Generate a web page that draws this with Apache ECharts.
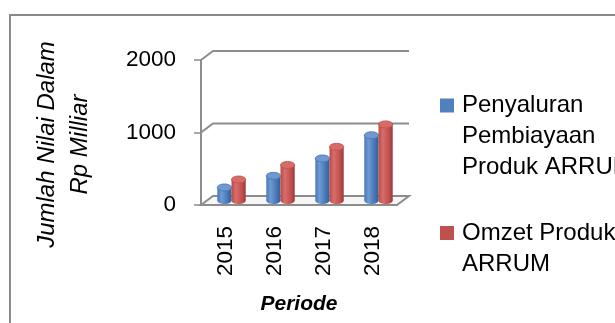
<!DOCTYPE html>
<html>
<head>
<meta charset="utf-8">
<script src="https://cdn.jsdelivr.net/npm/echarts@6/dist/echarts.min.js"></script>
<style>
  html, body { margin: 0; padding: 0; background: #fff; }
  #chart { width: 615px; height: 323px; }
</style>
</head>
<body>
<div id="chart"></div>
<script>
// ---- data ----
const periods = ['2015', '2016', '2017', '2018'];
const penyaluran = [180, 340, 580, 900];   // Penyaluran Pembiayaan Produk ARRUM
const omzet = [290, 490, 740, 1050];       // Omzet Produk ARRUM
const valueTicks = [0, 1000, 2000];
const seriesNames = ['Penyaluran\nPembiayaan\nProduk ARRUM', 'Omzet Produk\nARRUM'];

// ---- pseudo-3D box depth (screen offset of the back plane) ----
const DX = 12, DY = -9;
const FONT = "'Liberation Sans', Arial, sans-serif";
const GRAY = '#8c8c8c';

// back wall gridlines and floor, positioned from the value axis
function renderWall(params, api) {
  const cs = params.coordSys;
  const v = api.value(1);
  const y = api.coord([0, v])[1];
  const x0 = cs.x, x1 = cs.x + cs.width;
  if (v === 0) {
    return {
      type: 'polygon',
      shape: { points: [[x0, y], [x1, y], [x1 + DX, y + DY], [x0 + DX, y + DY]] },
      style: { fill: '#f6f6f6', stroke: GRAY, lineWidth: 2 }
    };
  }
  return {
    type: 'polyline',
    shape: { points: [[x0, y], [x0 + DX, y + DY], [x1 + DX, y + DY]] },
    style: { fill: null, stroke: GRAY, lineWidth: 2 }
  };
}

// cylinder column; side 0 = left of the pair, 1 = right
function cylinder(side, c) {
  return function (params, api) {
    const cat = api.value(0), val = api.value(1);
    const top = api.coord([cat, val]);
    const base = api.coord([cat, 0]);
    const band = api.size([1, 0])[0];
    const w = band * 0.29;
    const cx = top[0] + DX / 2;
    const left = side === 0 ? cx - w : cx;
    const yTop = top[1] + DY / 2, yBase = base[1] + DY / 2;
    const rx = w / 2, ry = 3.5;
    const body = () => new echarts.graphic.LinearGradient(0, 0, 1, 0, [
      { offset: 0, color: c.edge },
      { offset: 0.3, color: c.light },
      { offset: 0.75, color: c.mid },
      { offset: 1, color: c.dark }
    ]);
    return {
      type: 'group',
      children: [
        { type: 'ellipse', shape: { cx: left + rx, cy: yBase, rx: rx, ry: ry }, style: { fill: body() } },
        { type: 'rect', shape: { x: left, y: yTop, width: w, height: yBase - yTop }, style: { fill: body() } },
        { type: 'ellipse', shape: { cx: left + rx, cy: yTop, rx: rx, ry: ry }, style: { fill: c.top, stroke: c.mid, lineWidth: 0.8 } }
      ]
    };
  };
}

const blueShade = { edge: '#4a78b8', light: '#6e9ad4', mid: '#4574b4', dark: '#345d96', top: '#6d98d0' };
const redShade  = { edge: '#b54a47', light: '#d86e6a', mid: '#bf4f4c', dark: '#98393a', top: '#d66b67' };

// legend text sits with its first line beside the swatch
function legendLabel(name) {
  const lines = name.split('\n').length;
  return '\n'.repeat(lines - 1) + name;
}

const chart = echarts.init(document.getElementById('chart'), null, { renderer: 'canvas' });

chart.setOption({
  animation: false,
  graphic: [{
    type: 'rect', silent: true, z: -10,
    shape: { x: 10, y: 15, width: 800, height: 500 },
    style: { fill: 'none', stroke: '#8a8a8a', lineWidth: 2 }
  }],
  grid: { left: 201, right: 218, top: 60, bottom: 118, outerBoundsMode: 'none' },
  legend: {
    orient: 'vertical',
    left: 440,
    top: 28,
    padding: 0,
    itemWidth: 14,
    itemHeight: 14,
    itemGap: 3.5,
    icon: 'rect',
    selectedMode: false,
    formatter: legendLabel,
    textStyle: { fontFamily: FONT, fontSize: 24, lineHeight: 31, color: '#000', padding: [0, 0, 0, 3] },
    data: seriesNames
  },
  xAxis: {
    type: 'category',
    data: periods,
    axisLine: { show: false },
    axisTick: { show: false },
    axisLabel: { rotate: 90, margin: 21, fontFamily: FONT, fontSize: 22.5, color: '#000' },
    name: 'Periode',
    nameLocation: 'middle',
    nameGap: 89,
    nameTextStyle: { fontFamily: FONT, fontSize: 21, fontWeight: 'bold', fontStyle: 'italic', color: '#000' }
  },
  yAxis: {
    type: 'value',
    min: 0, max: 2000, interval: 1000,
    axisLine: { show: true, lineStyle: { color: GRAY, width: 2 } },
    axisTick: { show: true, length: 7, lineStyle: { color: GRAY, width: 1.5 } },
    axisLabel: { margin: 25, fontFamily: FONT, fontSize: 22.5, color: '#000', formatter: v => String(v) },
    splitLine: { show: false },
    name: 'Jumlah Nilai Dalam\nRp Milliar',
    nameLocation: 'middle',
    nameRotate: 90,
    nameGap: 104,
    nameTextStyle: { fontFamily: FONT, fontSize: 24, fontStyle: 'italic', lineHeight: 33, padding: [0, 24, 0, 0], color: '#000' }
  },
  series: [
    {
      type: 'custom', name: seriesNames[0], clip: false, z: 3,
      itemStyle: { color: '#4F81BD' },
      renderItem: cylinder(0, blueShade),
      data: periods.map((p, i) => [i, penyaluran[i]])
    },
    {
      type: 'custom', name: seriesNames[1], clip: false, z: 3,
      itemStyle: { color: '#C0504D' },
      renderItem: cylinder(1, redShade),
      data: periods.map((p, i) => [i, omzet[i]])
    },
    {
      type: 'custom', name: 'wall', clip: false, z: 1, silent: true,
      renderItem: renderWall,
      data: valueTicks.map(v => [0, v])
    }
  ]
});
</script>
</body>
</html>
